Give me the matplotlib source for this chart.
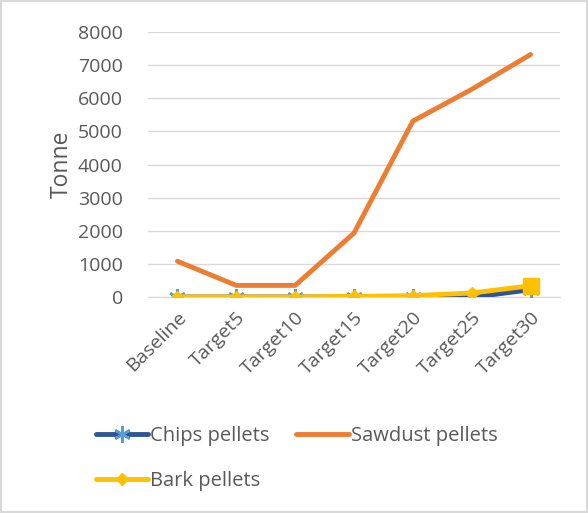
import matplotlib.pyplot as plt
from matplotlib.patches import Rectangle

categories = ['Baseline', 'Target5', 'Target10', 'Target15', 'Target20', 'Target25', 'Target30']
chips = [0, 0, 0, 0, 0, -10, 220]
sawdust = [1080, 350, 350, 1930, 5310, 6270, 7320]
bark = [0, 0, 0, 20, 40, 120, 340]

plt.rcParams['font.family'] = ['Open Sans', 'DejaVu Sans']
text_color = '#595959'

fig = plt.figure(figsize=(5.88, 5.13), dpi=100)
W, H = 588, 513
ax = fig.add_axes([148 / W, 1 - 297 / H, 412 / W, 265 / H])

x = range(len(categories))
ax.plot(x, sawdust, color='#ED7D31', lw=3.5, solid_capstyle='round',
        solid_joinstyle='round', label='Sawdust pellets', zorder=3)
ax.plot(x, chips, color='#2F5597', lw=3.5, marker=(6, 2, 0), ms=12, mew=1.8,
        mec='#5B9BD5', solid_capstyle='round', label='Chips pellets', zorder=4)
ax.plot(x, bark, color='#FFC000', lw=3.5, marker='D', ms=6, mec='#FFC000',
        solid_capstyle='round', label='Bark pellets', zorder=5)
ax.plot([x[-1]], [bark[-1]], color='#FFC000', marker='s', ms=11, ls='none', zorder=6)

ax.set_xlim(-0.5, len(categories) - 0.5)
ax.set_ylim(0, 8000)
ax.set_yticks(range(0, 8001, 1000))
ax.set_xticks(list(x))
ax.set_xticklabels(categories, rotation=45, ha='right', rotation_mode='anchor')
ax.grid(axis='y', color='#d9d9d9', lw=1)
ax.set_axisbelow(True)
for s in ['top', 'right', 'left']:
    ax.spines[s].set_visible(False)
ax.spines['bottom'].set_color('#d9d9d9')
ax.tick_params(length=0, labelsize=14, colors=text_color, pad=8)
ax.tick_params(axis='y', pad=18)
ax.set_ylabel('Tonne', fontsize=16.5, color=text_color, labelpad=3)

handles, labels = ax.get_legend_handles_labels()
# column-major fill: chips and bark in the first column, sawdust in the second
order = [1, 2, 0]
fig.legend([handles[i] for i in order], [labels[i] for i in order],
           loc='upper left', bbox_to_anchor=(78 / W, 1 - 408 / H), ncol=2,
           frameon=False, fontsize=14.5, labelcolor=text_color,
           handlelength=2.6, handletextpad=0.1, columnspacing=1.3,
           labelspacing=1.25)

fig.patches.append(Rectangle((0.002, 0.002), 0.996, 0.996, transform=fig.transFigure,
                             fill=False, edgecolor='#d9d9d9', lw=1.5))
fig.savefig('out.png', dpi=100)
